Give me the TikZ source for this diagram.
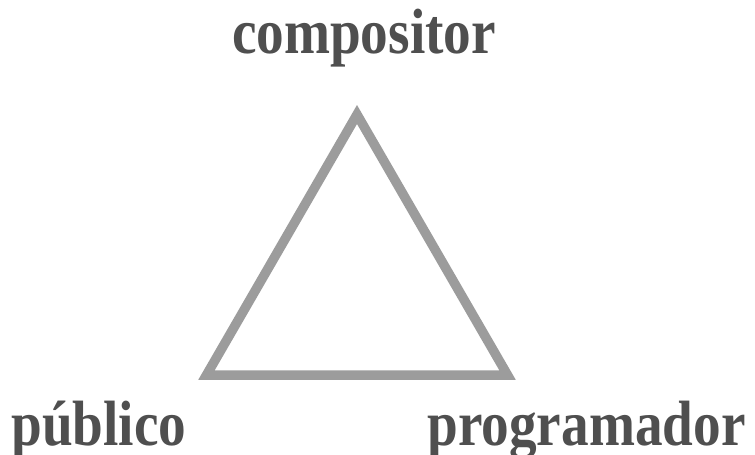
\documentclass[tikz,border=0pt]{standalone}
\usepackage{fontspec}
\usepackage{graphicx}
\setmainfont{Liberation Serif}
\definecolor{labelgray}{HTML}{4F4F4F}
\definecolor{trigray}{HTML}{9C9C9C}
\newcommand{\lbltext}[1]{\scalebox{0.863}[1]{\fontsize{64}{70}\selectfont\bfseries #1}}
\begin{document}
\begin{tikzpicture}[x=1pt,y=-1pt,
  lbl/.style={text=labelgray, anchor=base, inner sep=0pt},
  edge/.style={draw=trigray, line width=9.5pt, line join=miter}]
\useasboundingbox[fill=white] (0,0) rectangle (755,455);
\coordinate (top) at (357,114.5);
\coordinate (bl) at (206.5,375);
\coordinate (br) at (507.5,375);
\draw[edge] (top) -- (bl) -- (br) -- cycle;
\node[lbl] (comp) at (364,53) {\lbltext{compositor}};
\node[lbl] (pub) at (99,445) {\lbltext{público}};
\node[lbl] (prog) at (586.5,445) {\lbltext{programador}};
\end{tikzpicture}
\end{document}
